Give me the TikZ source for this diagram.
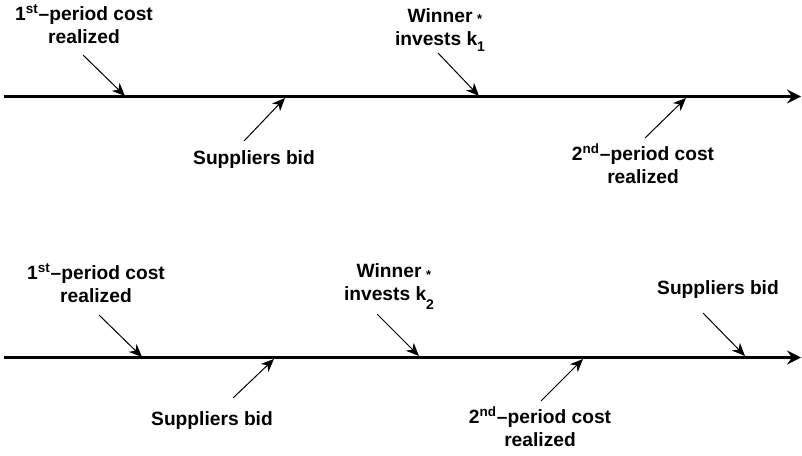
\documentclass[tikz,border=0pt]{standalone}
\usepackage{fontspec}
\setmainfont{Liberation Sans}
\usetikzlibrary{arrows.meta}

% k with a raised star and a lowered index; the star takes no room
\newcommand\kstar[2]{k\rlap{\smash{\raisebox{10.5pt}{\fontsize{6.5}{6.5}\selectfont *}}}\raisebox{-#2}{\fontsize{7}{7}\selectfont #1}}

\begin{document}
\begin{tikzpicture}[x=0.5pt,y=-0.5pt,
  lbl/.style={font=\fontsize{9.6}{11.3}\selectfont\bfseries, align=center, inner sep=0pt, anchor=base},
  timeline/.style={line width=1.5pt, -{Stealth[length=7pt,width=7pt,inset=2.5pt]}},
  pointer/.style={line width=0.5pt, -{Stealth[length=6.5pt,width=5.5pt,inset=2pt]}}]
\useasboundingbox (0,0) rectangle (802,455);

% ---------- first timeline ----------
\coordinate (A0) at (4,96.5);
\coordinate (A1) at (801,96.5);
\draw[timeline] (A0) -- (A1);

% label positions are given at the baseline of the last line
\node[lbl] (a1) at (84,43) {1\textsuperscript{st}--period cost\\realized};
\node[lbl] (a2) at (440,45) {Winner\\invests \kstar{1}{3pt}};
\node[lbl] (a3) at (254,164) {Suppliers bid};
\node[lbl] (a4) at (643,183) {2\textsuperscript{nd}--period cost\\realized};

\coordinate (a1s) at (83,55);   \coordinate (a1e) at (125,96);
\coordinate (a2s) at (438,53);  \coordinate (a2e) at (479,96);
\coordinate (a3s) at (244,141); \coordinate (a3e) at (285,98);
\coordinate (a4s) at (645,138); \coordinate (a4e) at (686,98);
\draw[pointer] (a1s) -- (a1e);
\draw[pointer] (a2s) -- (a2e);
\draw[pointer] (a3s) -- (a3e);
\draw[pointer] (a4s) -- (a4e);

% ---------- second timeline ----------
\coordinate (B0) at (4,357.5);
\coordinate (B1) at (801,357.5);
\draw[timeline] (B0) -- (B1);

\node[lbl] (b1) at (96,302) {1\textsuperscript{st}--period cost\\realized};
\node[lbl] (b2) at (389,300) {Winner\\invests \kstar{2}{4.5pt}};
\node[lbl] (b3) at (718,294) {Suppliers bid};
\node[lbl] (b4) at (212,425) {Suppliers bid};
\node[lbl] (b5) at (540,446) {2\textsuperscript{nd}--period cost\\realized};

\coordinate (b1s) at (99,315);  \coordinate (b1e) at (142,357);
\coordinate (b2s) at (377,314); \coordinate (b2e) at (419,356);
\coordinate (b3s) at (703,313); \coordinate (b3e) at (745,356);
\coordinate (b4s) at (233,398); \coordinate (b4e) at (274,359);
\coordinate (b5s) at (541,401); \coordinate (b5e) at (583,359);
\draw[pointer] (b1s) -- (b1e);
\draw[pointer] (b2s) -- (b2e);
\draw[pointer] (b3s) -- (b3e);
\draw[pointer] (b4s) -- (b4e);
\draw[pointer] (b5s) -- (b5e);
\end{tikzpicture}
\end{document}
